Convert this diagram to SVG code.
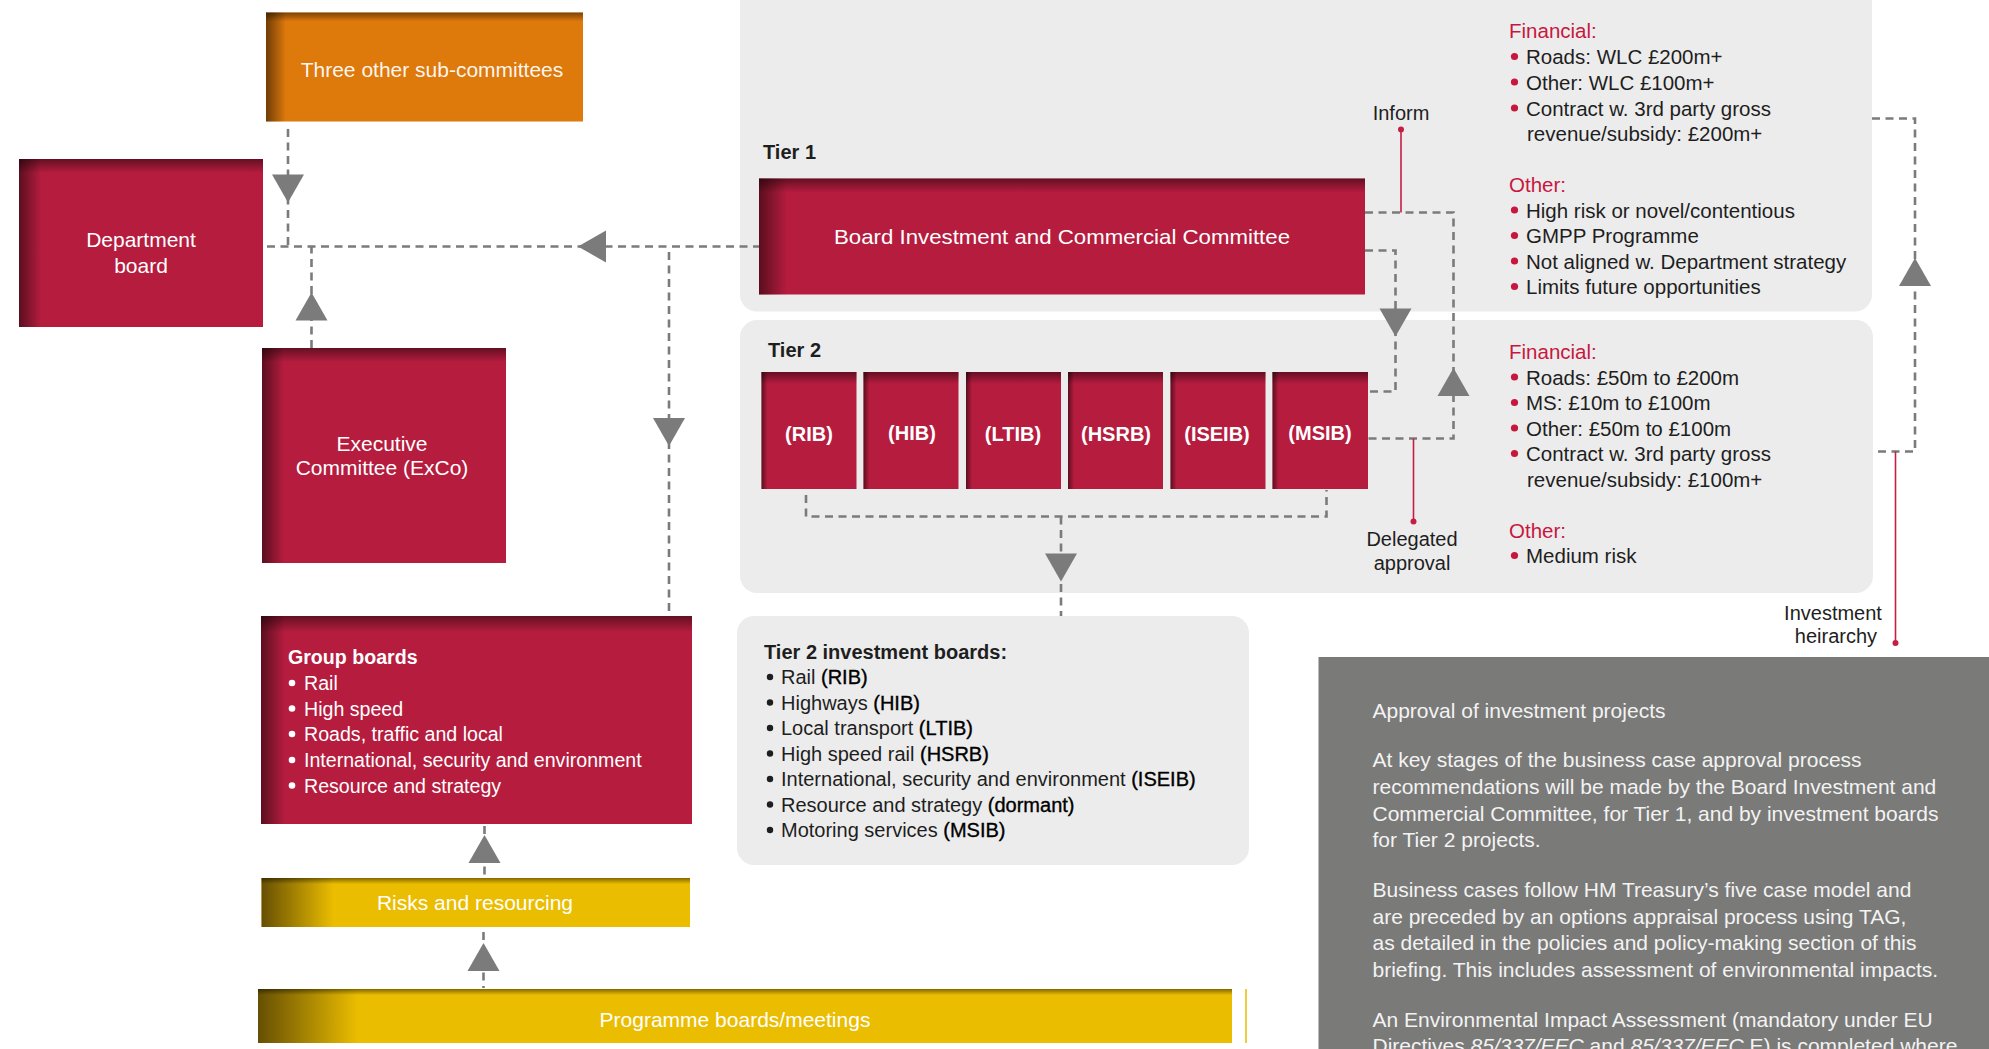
<svg xmlns="http://www.w3.org/2000/svg" width="1989" height="1049" viewBox="0 0 1989 1049">
<defs>
<style>
text{font-family:"Liberation Sans",Arial,sans-serif}
.red{fill:#b51c3e}
.org{fill:#de790c}
.yel{fill:#ebbd00}
.pan{fill:#ececec}
.sl{fill:url(#shL)}
.st{fill:url(#shT)}
.sly{fill:url(#shLY)}
.wt{fill:#fff;font-size:19.6px}
.wc{fill:#fff;font-size:21px;text-anchor:middle}
.bx{fill:#fff;font-size:20px;font-weight:bold;text-anchor:middle}
.dk{fill:#1e1e1e;font-size:20px}
.dkc{fill:#1e1e1e;font-size:20px;text-anchor:middle}
.rh{fill:#c8173f;font-size:20.5px}
.li{fill:#1e1e1e;font-size:20.5px}
.pg{fill:#f3f3f3;font-size:21px}
.pb{fill:#000;stroke:#000;stroke-width:0.35}
.dash{fill:none;stroke:#7b7b7b;stroke-width:2.6;stroke-dasharray:8 5.5}
.ann{fill:none;stroke:#c41e45;stroke-width:1.6}
.dot{fill:#c41e45}
.arr{fill:#7b7b7b}
.bw{fill:#fff}
.bk{fill:#1e1e1e}
.br{fill:#c8173f}
</style>
<linearGradient id="shL" x1="0" x2="1" y1="0" y2="0"><stop offset="0" stop-color="#000" stop-opacity="0.5"/><stop offset="1" stop-color="#000" stop-opacity="0"/></linearGradient>
<linearGradient id="shT" x1="0" x2="0" y1="0" y2="1"><stop offset="0" stop-color="#000" stop-opacity="0.45"/><stop offset="1" stop-color="#000" stop-opacity="0"/></linearGradient>
<linearGradient id="shLY" x1="0" x2="1" y1="0" y2="0"><stop offset="0" stop-color="#3a2a05" stop-opacity="0.75"/><stop offset="1" stop-color="#3a2a05" stop-opacity="0"/></linearGradient>
<polygon id="tri" points="-16,-14 16,-14 0,14"/>
</defs>
<rect width="1989" height="1049" fill="#fff"/>

<g id="tier1-panel">
<rect class="pan" x="740" y="-30" width="1132" height="341.5" rx="17"/>
<text x="763" y="159" class="dk" font-weight="bold" font-size="19.5">Tier 1</text>
<text x="1509" y="38" class="rh">Financial:</text>
<circle class="br" cx="1514.5" cy="56.5" r="3.6"/><text x="1526" y="64" class="li">Roads: WLC £200m+</text>
<circle class="br" cx="1514.5" cy="82" r="3.6"/><text x="1526" y="89.5" class="li">Other: WLC £100m+</text>
<circle class="br" cx="1514.5" cy="108" r="3.6"/><text x="1526" y="115.5" class="li">Contract w. 3rd party gross</text>
<text x="1527" y="141" class="li">revenue/subsidy: £200m+</text>
<text x="1509" y="191.5" class="rh">Other:</text>
<circle class="br" cx="1514.5" cy="210" r="3.6"/><text x="1526" y="217.5" class="li">High risk or novel/contentious</text>
<circle class="br" cx="1514.5" cy="235.5" r="3.6"/><text x="1526" y="243" class="li">GMPP Programme</text>
<circle class="br" cx="1514.5" cy="261" r="3.6"/><text x="1526" y="268.5" class="li">Not aligned w. Department strategy</text>
<circle class="br" cx="1514.5" cy="286.5" r="3.6"/><text x="1526" y="294" class="li">Limits future opportunities</text>
</g>

<g id="tier2-panel">
<rect class="pan" x="740" y="320" width="1133" height="273" rx="17"/>
<text x="768" y="357" class="dk" font-weight="bold" font-size="19.5">Tier 2</text>
<text x="1509" y="359" class="rh">Financial:</text>
<circle class="br" cx="1514.5" cy="377" r="3.6"/><text x="1526" y="384.5" class="li">Roads: £50m to £200m</text>
<circle class="br" cx="1514.5" cy="402.5" r="3.6"/><text x="1526" y="410" class="li">MS: £10m to £100m</text>
<circle class="br" cx="1514.5" cy="428" r="3.6"/><text x="1526" y="435.5" class="li">Other: £50m to £100m</text>
<circle class="br" cx="1514.5" cy="453.5" r="3.6"/><text x="1526" y="461" class="li">Contract w. 3rd party gross</text>
<text x="1527" y="486.5" class="li">revenue/subsidy: £100m+</text>
<text x="1509" y="537.5" class="rh">Other:</text>
<circle class="br" cx="1514.5" cy="555.5" r="3.6"/><text x="1526" y="563" class="li">Medium risk</text>
</g>

<g id="three-other-sub-committees">
<rect class="org" x="266" y="12.5" width="317" height="109"/>
<rect class="sl" x="266" y="12.5" width="20" height="109"/>
<rect class="st" x="266" y="12.5" width="317" height="9"/>
<text x="432" y="77" class="wc" fill-opacity="0.95">Three other sub-committees</text>
</g>

<g id="department-board">
<rect class="red" x="19" y="159" width="244" height="168"/>
<rect class="sl" x="19" y="159" width="22" height="168"/>
<rect class="st" x="19" y="159" width="244" height="14"/>
<text x="141" y="246.5" class="wc">Department</text>
<text x="141" y="272.5" class="wc">board</text>
</g>

<g id="executive-committee">
<rect class="red" x="262" y="348" width="244" height="215"/>
<rect class="sl" x="262" y="348" width="22" height="215"/>
<rect class="st" x="262" y="348" width="244" height="14"/>
<text x="382" y="450.5" class="wc">Executive</text>
<text x="382" y="475" class="wc">Committee (ExCo)</text>
</g>

<g id="group-boards">
<rect class="red" x="261" y="616" width="431" height="208"/>
<rect class="sl" x="261" y="616" width="24" height="208"/>
<rect class="st" x="261" y="616" width="431" height="16"/>
<text x="288" y="664" class="wt" font-size="20" font-weight="bold">Group boards</text>
<circle class="bw" cx="292" cy="683" r="3.3"/><text x="304" y="690" class="wt">Rail</text>
<circle class="bw" cx="292" cy="708.5" r="3.3"/><text x="304" y="715.5" class="wt">High speed</text>
<circle class="bw" cx="292" cy="734" r="3.3"/><text x="304" y="741" class="wt">Roads, traffic and local</text>
<circle class="bw" cx="292" cy="760" r="3.3"/><text x="304" y="767" class="wt">International, security and environment</text>
<circle class="bw" cx="292" cy="785.5" r="3.3"/><text x="304" y="792.5" class="wt">Resource and strategy</text>
</g>

<g id="risks-and-resourcing">
<rect class="yel" x="261.5" y="878" width="428.5" height="49"/>
<rect class="sly" x="261.5" y="878" width="72" height="49"/>
<rect class="st" x="261.5" y="878" width="428.5" height="6"/>
<text x="475" y="910" class="wc">Risks and resourcing</text>
</g>

<g id="programme-boards">
<rect class="yel" x="258" y="989" width="974" height="54"/>
<rect class="sly" x="258" y="989" width="100" height="54"/>
<rect class="st" x="258" y="989" width="974" height="6"/>
<line x1="1246" y1="989" x2="1246" y2="1043" stroke="#ebbd00" stroke-width="1.5"/>
<text x="735" y="1026.5" class="wc">Programme boards/meetings</text>
</g>

<g id="board-investment-commercial-committee">
<rect class="red" x="759" y="178.5" width="606" height="116"/>
<rect class="sl" x="759" y="178.5" width="28" height="116"/>
<rect class="st" x="759" y="178.5" width="606" height="14"/>
<text x="1062" y="244" class="wc" font-size="22" textLength="456" lengthAdjust="spacingAndGlyphs">Board Investment and Commercial Committee</text>
</g>

<g id="rib"><rect class="red" x="761.5" y="372" width="95" height="117"/><rect class="st" x="761.5" y="372" width="95" height="12"/><rect class="sl" x="761.5" y="372" width="6" height="117"/><text x="809" y="441" class="bx">(RIB)</text></g>
<g id="hib"><rect class="red" x="863.5" y="372" width="95" height="117"/><rect class="st" x="863.5" y="372" width="95" height="12"/><rect class="sl" x="863.5" y="372" width="6" height="117"/><text x="912" y="440" class="bx">(HIB)</text></g>
<g id="ltib"><rect class="red" x="966" y="372" width="95" height="117"/><rect class="st" x="966" y="372" width="95" height="12"/><rect class="sl" x="966" y="372" width="6" height="117"/><text x="1013" y="441" class="bx">(LTIB)</text></g>
<g id="hsrb"><rect class="red" x="1068" y="372" width="95" height="117"/><rect class="st" x="1068" y="372" width="95" height="12"/><rect class="sl" x="1068" y="372" width="6" height="117"/><text x="1116" y="441" class="bx">(HSRB)</text></g>
<g id="iseib"><rect class="red" x="1170.5" y="372" width="95" height="117"/><rect class="st" x="1170.5" y="372" width="95" height="12"/><rect class="sl" x="1170.5" y="372" width="6" height="117"/><text x="1217" y="441" class="bx">(ISEIB)</text></g>
<g id="msib"><rect class="red" x="1272.5" y="372" width="95.5" height="117"/><rect class="st" x="1272.5" y="372" width="95.5" height="12"/><rect class="sl" x="1272.5" y="372" width="6" height="117"/><text x="1320" y="440" class="bx">(MSIB)</text></g>

<g id="tier2-investment-boards">
<rect class="pan" x="737" y="616" width="512" height="249" rx="17"/>
<text x="764" y="658.5" class="dk" font-weight="bold">Tier 2 investment boards:</text>
<circle class="bk" cx="770" cy="677" r="3.2"/><text x="781" y="684" class="dk">Rail <tspan class="pb">(RIB)</tspan></text>
<circle class="bk" cx="770" cy="702.5" r="3.2"/><text x="781" y="709.5" class="dk">Highways <tspan class="pb">(HIB)</tspan></text>
<circle class="bk" cx="770" cy="728" r="3.2"/><text x="781" y="735" class="dk">Local transport <tspan class="pb">(LTIB)</tspan></text>
<circle class="bk" cx="770" cy="753.5" r="3.2"/><text x="781" y="760.5" class="dk">High speed rail <tspan class="pb">(HSRB)</tspan></text>
<circle class="bk" cx="770" cy="779" r="3.2"/><text x="781" y="786" class="dk">International, security and environment <tspan class="pb">(ISEIB)</tspan></text>
<circle class="bk" cx="770" cy="804.5" r="3.2"/><text x="781" y="811.5" class="dk">Resource and strategy <tspan class="pb">(dormant)</tspan></text>
<circle class="bk" cx="770" cy="830" r="3.2"/><text x="781" y="837" class="dk">Motoring services <tspan class="pb">(MSIB)</tspan></text>
</g>

<g id="approval-of-investment-projects">
<rect x="1318.5" y="657" width="680" height="400" fill="#7a7a78"/>
<text x="1372.5" y="718" class="pg">Approval of investment projects</text>
<text x="1372.5" y="767" class="pg">At key stages of the business case approval process</text>
<text x="1372.5" y="794" class="pg">recommendations will be made by the Board Investment and</text>
<text x="1372.5" y="820.5" class="pg">Commercial Committee, for Tier 1, and by investment boards</text>
<text x="1372.5" y="847" class="pg">for Tier 2 projects.</text>
<text x="1372.5" y="897" class="pg">Business cases follow HM Treasury’s five case model and</text>
<text x="1372.5" y="923.5" class="pg">are preceded by an options appraisal process using TAG,</text>
<text x="1372.5" y="950" class="pg">as detailed in the policies and policy-making section of this</text>
<text x="1372.5" y="977" class="pg">briefing. This includes assessment of environmental impacts.</text>
<text x="1372.5" y="1026.5" class="pg">An Environmental Impact Assessment (mandatory under EU</text>
<text x="1372.5" y="1053" class="pg">Directives <tspan font-style="italic">85/337/EEC</tspan> and <tspan font-style="italic">85/337/EEC</tspan> E) is completed where</text>
</g>

<g id="connectors">
<path class="dash" d="M288,129 V246.5"/>
<path class="dash" d="M267,246.5 H759"/>
<path class="dash" d="M311.5,348 V246.5"/>
<path class="dash" d="M669,252 V611"/>
<path class="dash" d="M484.5,826 V877"/>
<path class="dash" d="M483.5,932 V988"/>
<path class="dash" d="M806,495 V516.5 H1326.5 V490"/>
<path class="dash" d="M1061,516.5 V616"/>
<path class="dash" d="M1365,212.5 H1453.5 V438.5 H1368"/>
<path class="dash" d="M1365,250.5 H1395.5 V391.5 H1368"/>
<path class="dash" d="M1872,118.5 H1915 V451.5 H1873"/>
<use href="#tri" class="arr" transform="translate(288,188.5)"/>
<use href="#tri" class="arr" transform="translate(592,246.5) rotate(90)"/>
<use href="#tri" class="arr" transform="translate(311.5,306.5) rotate(180)"/>
<use href="#tri" class="arr" transform="translate(669,432)"/>
<use href="#tri" class="arr" transform="translate(484.5,849) rotate(180)"/>
<use href="#tri" class="arr" transform="translate(483.5,957) rotate(180)"/>
<use href="#tri" class="arr" transform="translate(1061,567.5)"/>
<use href="#tri" class="arr" transform="translate(1395.5,322.5)"/>
<use href="#tri" class="arr" transform="translate(1453.5,382) rotate(180)"/>
<use href="#tri" class="arr" transform="translate(1915,272) rotate(180)"/>
<path class="ann" d="M1401,129.5 V212.5"/><circle class="dot" cx="1401" cy="129.5" r="3"/>
<path class="ann" d="M1413.5,438.5 V521.5"/><circle class="dot" cx="1413.5" cy="521.5" r="3"/>
<path class="ann" d="M1895.5,451.5 V643"/><circle class="dot" cx="1895.5" cy="643" r="3"/>
</g>

<g id="label-inform"><text x="1401" y="120" class="dkc">Inform</text></g>
<g id="label-delegated-approval"><text x="1412" y="545.5" class="dkc">Delegated</text><text x="1412" y="570" class="dkc">approval</text></g>
<g id="label-investment-hierarchy"><text x="1833" y="620" class="dkc">Investment</text><text x="1836" y="643" class="dkc">heirarchy</text></g>
</svg>
